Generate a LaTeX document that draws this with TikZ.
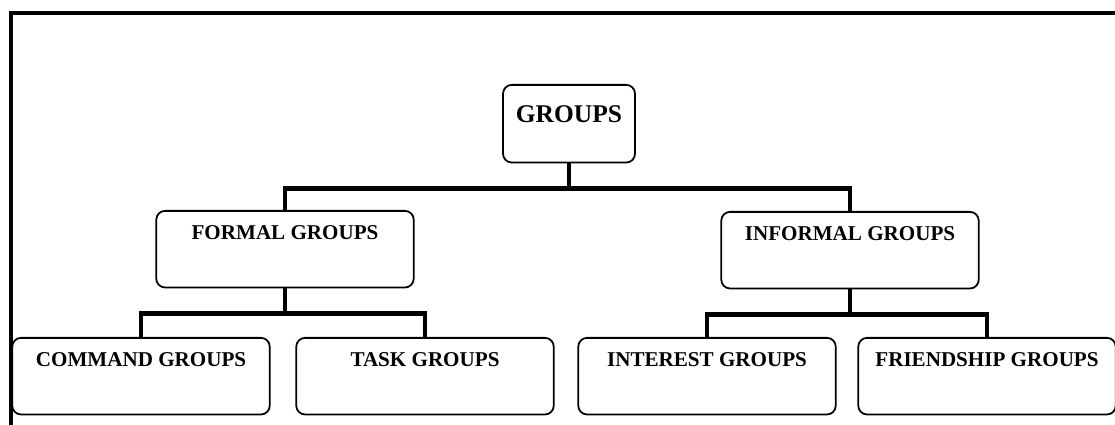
\documentclass[tikz,border=0pt]{standalone}
\usepackage{fontspec}
\setmainfont{Liberation Serif}
\usepackage{tikz}
\usetikzlibrary{calc, positioning}

\begin{document}
\begin{tikzpicture}[x=0.02cm, y=-0.02cm, font=\bfseries\fontsize{12}{14}\selectfont,
        groupbox/.style={draw, line width=1pt, rounded corners=5pt, inner sep=0pt,
            anchor=north, minimum width=5.15cm, text height=16.2pt, text depth=27.4pt},
        topbox/.style={groupbox, minimum width=2.64cm, text height=21.5pt, text depth=22.7pt,
            font=\bfseries\fontsize{14.5}{16}\selectfont},
        link/.style={line width=2.8pt}]
        \useasboundingbox (0,0) rectangle (1115,425);

        % frame
        \draw[link] (11,430) |- (1120,13);

        % levels
        \node[topbox] (groups) at (569,84) {GROUPS};

        \node[groupbox] (formal) at (285,210) {FORMAL GROUPS};
        \node[groupbox] (informal) at (850,211) {INFORMAL GROUPS};

        \node[groupbox] (command) at (141,337) {COMMAND GROUPS};
        \node[groupbox] (task) at (425,337) {TASK GROUPS};
        \node[groupbox] (interest) at (707,337) {INTEREST GROUPS};
        \node[groupbox] (friendship) at (987,337) {FRIENDSHIP GROUPS};

        % connectors
        \draw[link] (groups.south) -- ++(0,25) -| (formal.north);
        \draw[link] (groups.south) -- ++(0,25) -| (informal.north);

        \draw[link] (formal.south) -- ++(0,25) -| (command.north);
        \draw[link] (formal.south) -- ++(0,25) -| (task.north);

        \draw[link] (informal.south) -- ++(0,25) -| (interest.north);
        \draw[link] (informal.south) -- ++(0,25) -| (friendship.north);
\end{tikzpicture}
\end{document}
